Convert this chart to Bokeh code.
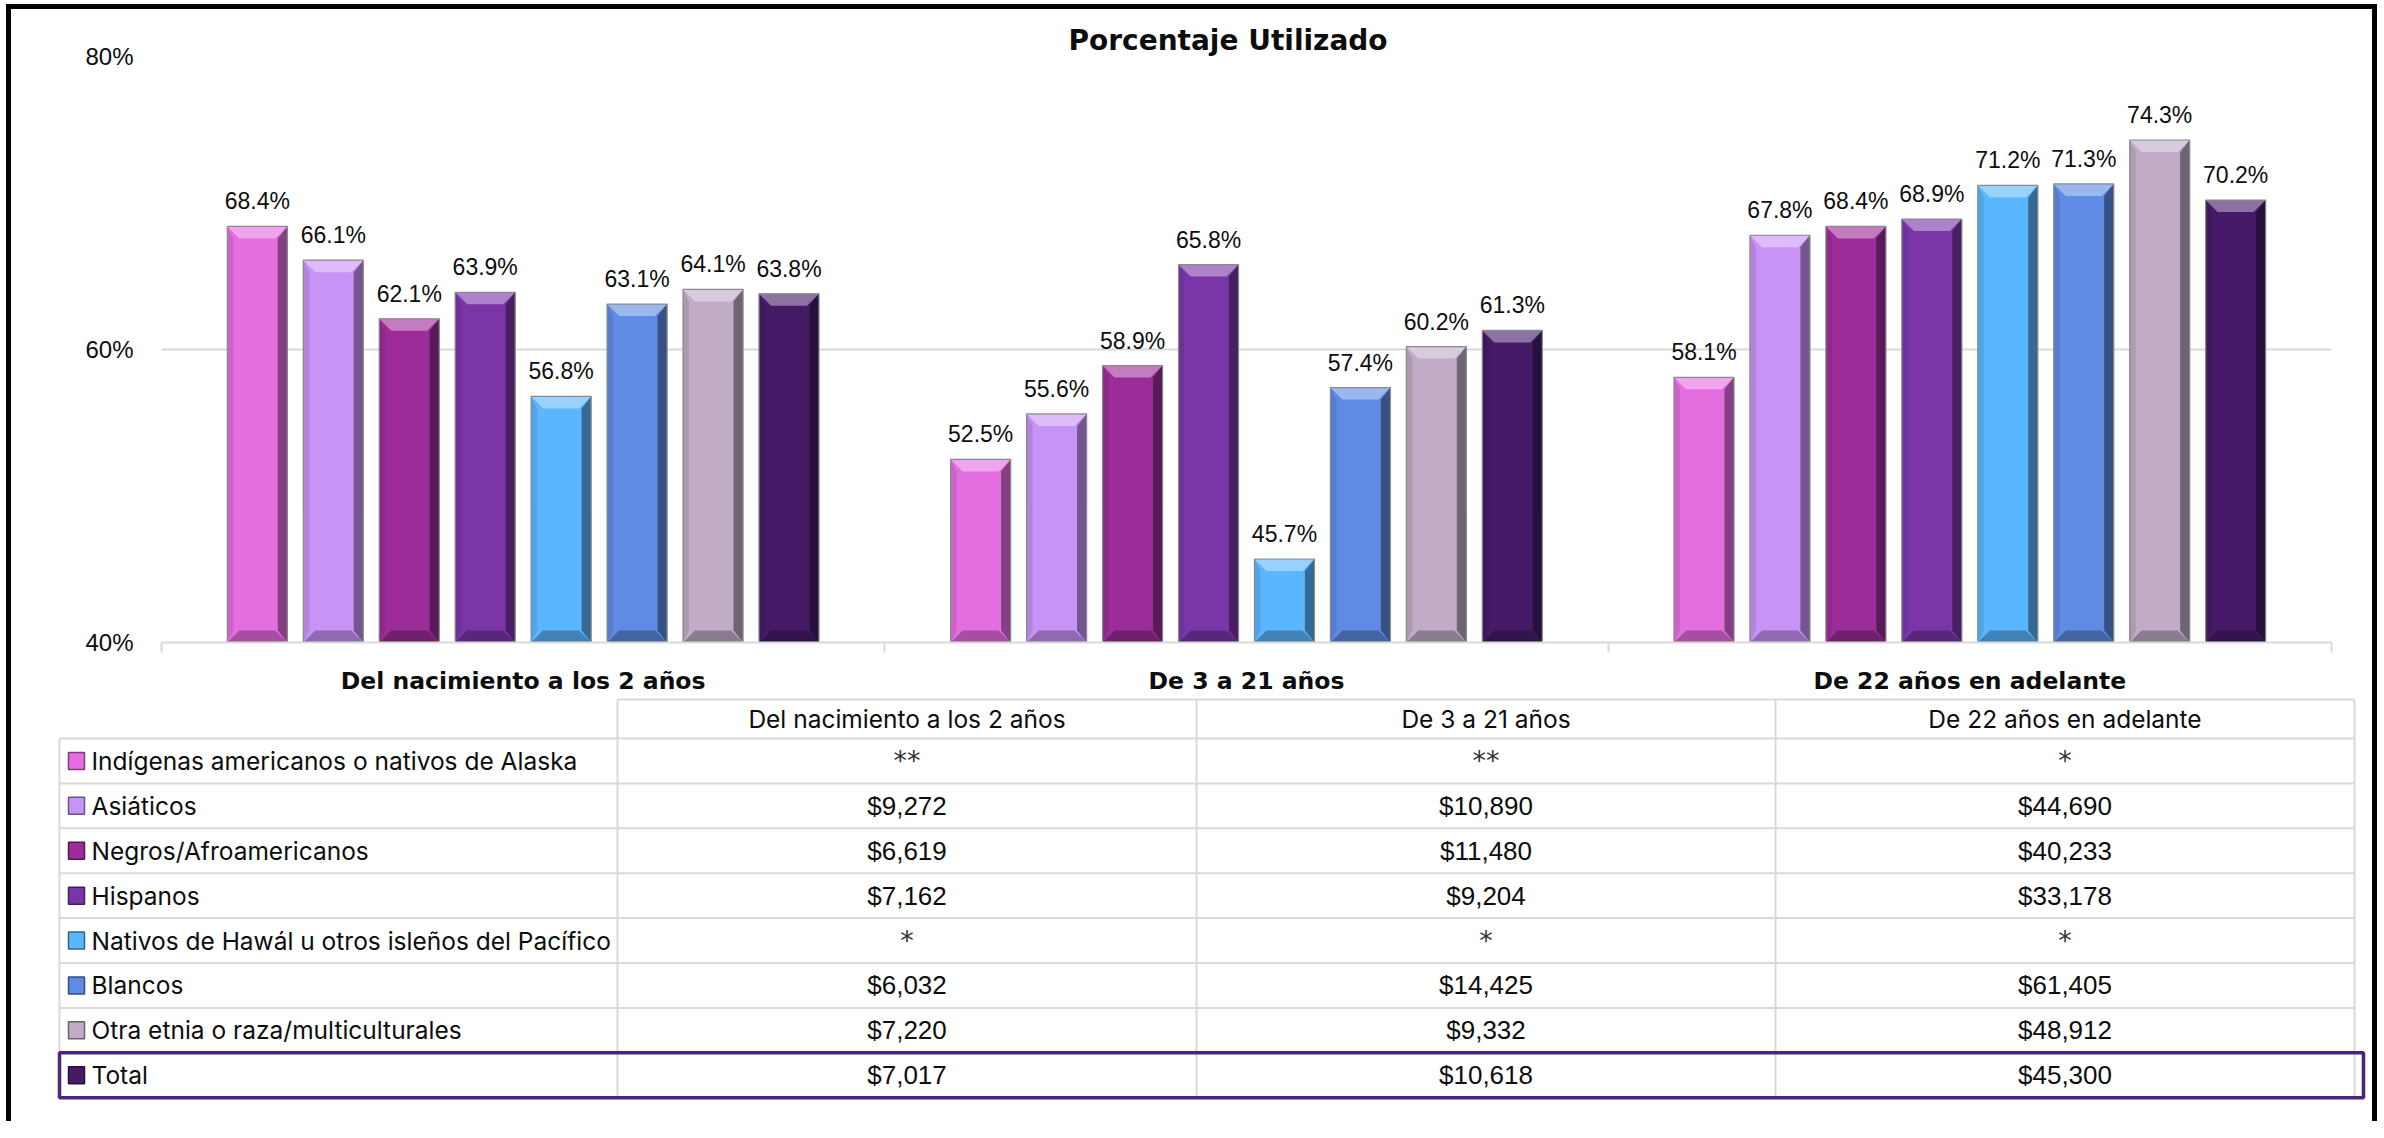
from bokeh.plotting import figure
from bokeh.models import Range1d, FixedTicker, ColumnDataSource
from bokeh.layouts import column
from bokeh.embed import file_html
from bokeh.resources import INLINE
from bokeh.core.properties import value

# ---------------- data ----------------
title_text = "Porcentaje Utilizado"
groups = ["Del nacimiento a los 2 años", "De 3 a 21 años", "De 22 años en adelante"]
series = [
    "Indígenas americanos o nativos de Alaska",
    "Asiáticos",
    "Negros/Afroamericanos",
    "Hispanos",
    "Nativos de Hawál u otros isleños del Pacífico",
    "Blancos",
    "Otra etnia o raza/multiculturales",
    "Total",
]
pct_nacimiento_2 = [68.4, 66.1, 62.1, 63.9, 56.8, 63.1, 64.1, 63.8]
pct_3_21 = [52.5, 55.6, 58.9, 65.8, 45.7, 57.4, 60.2, 61.3]
pct_22_mas = [58.1, 67.8, 68.4, 68.9, 71.2, 71.3, 74.3, 70.2]

costo_nacimiento_2 = ["**", "$9,272", "$6,619", "$7,162", "*", "$6,032", "$7,220", "$7,017"]
costo_3_21 = ["**", "$10,890", "$11,480", "$9,204", "*", "$14,425", "$9,332", "$10,618"]
costo_22_mas = ["*", "$44,690", "$40,233", "$33,178", "*", "$61,405", "$48,912", "$45,300"]

y_ticks = [40, 60, 80]
y_tick_labels = ["40%", "60%", "80%"]

colors = ["#E46EE0", "#C893F6", "#9C2C97", "#7A36A9", "#5AB6FE", "#608BE4", "#C0ACC6", "#451B68"]

pct_by_group = [pct_nacimiento_2, pct_3_21, pct_22_mas]
cost_by_group = [costo_nacimiento_2, costo_3_21, costo_22_mas]


def mix(hex_color, t, target):
    h = hex_color.lstrip("#")
    r, g, b = int(h[0:2], 16), int(h[2:4], 16), int(h[4:6], 16)
    tr, tg, tb = target
    r = round(r + (tr - r) * t)
    g = round(g + (tg - g) * t)
    b = round(b + (tb - b) * t)
    return "#%02x%02x%02x" % (r, g, b)


# ---------------- layout constants (image px) ----------------
MARGIN_L, MARGIN_T = 6, 4
BORDER = 5
INNER_W = 2361
CHART_H = 688
TABLE_H = 424
IMG_X0 = MARGIN_L + BORDER
IMG_Y0 = MARGIN_T + BORDER
FRAME_X = (161, 2331)
FRAME_Y = (56, 642)
MB_L = FRAME_X[0] - IMG_X0
MB_R = IMG_X0 + INNER_W - FRAME_X[1]
MB_T = FRAME_Y[0] - IMG_Y0
MB_B = IMG_Y0 + CHART_H - FRAME_Y[1]
frame_w_px = FRAME_X[1] - FRAME_X[0]
frame_h_px = FRAME_Y[1] - FRAME_Y[0]
Y0, Y1 = y_ticks[0], y_ticks[-1]
ux = len(groups) / frame_w_px
uy = (Y1 - Y0) / frame_h_px

BAR_STEP = 0.105
BAR_W = 0.083
BEVEL_PX = 12

TXT = "#0d0d0d"
GRID = "#d9d9d9"
SANS = "Inter"
BOLD = "DejaVu Sans"
ARIAL = "Liberation Sans"

# ---------------- chart ----------------
p = figure(width=INNER_W, height=CHART_H, x_range=Range1d(0, len(groups)),
           y_range=Range1d(Y0, Y1), output_backend="svg", toolbar_location=None,
           min_border_left=MB_L, min_border_right=MB_R, min_border_top=MB_T,
           min_border_bottom=MB_B)
p.frame_align = False
p.outline_line_color = None
p.background_fill_color = "white"
p.border_fill_color = "white"

p.title.text = title_text
p.title.align = "left"
p.title.offset = 1068 - FRAME_X[0]
p.title.text_font = BOLD
p.title.text_font_style = "bold"
p.title.text_font_size = "28px"
p.title.text_color = TXT
p.title.standoff = 0

# y axis
p.yaxis.ticker = FixedTicker(ticks=y_ticks)
p.yaxis.major_label_overrides = {t: l for t, l in zip(y_ticks, y_tick_labels)}
p.yaxis.axis_line_color = None
p.yaxis.major_tick_line_color = None
p.yaxis.minor_tick_line_color = None
p.yaxis.major_label_standoff = 22
p.yaxis.major_label_text_font = ARIAL
p.yaxis.major_label_text_font_size = "24px"
p.yaxis.major_label_text_color = TXT

# x axis
centers = [i + 0.5 for i in range(len(groups))]
p.xaxis.ticker = FixedTicker(ticks=centers, minor_ticks=list(range(len(groups) + 1)))
p.xaxis.major_label_overrides = {c: g for c, g in zip(centers, groups)}
p.xaxis.axis_line_color = GRID
p.xaxis.axis_line_width = 2
p.xaxis.major_tick_line_color = None
p.xaxis.minor_tick_line_color = GRID
p.xaxis.minor_tick_line_width = 2
p.xaxis.minor_tick_in = 0
p.xaxis.minor_tick_out = 10
p.xaxis.major_label_standoff = 14
p.xaxis.major_label_text_font = BOLD
p.xaxis.major_label_text_font_style = "bold"
p.xaxis.major_label_text_font_size = "23.5px"
p.xaxis.major_label_text_color = TXT

p.xgrid.visible = False
p.ygrid.ticker = FixedTicker(ticks=y_ticks[1:])
p.ygrid.grid_line_color = GRID
p.ygrid.grid_line_width = 2

# bars
xs, tops, cols, labels = [], [], [], []
for gi, vals in enumerate(pct_by_group):
    for si, v in enumerate(vals):
        xs.append(gi + 0.5 + (si - (len(series) - 1) / 2) * BAR_STEP)
        tops.append(v)
        cols.append(colors[si])
        labels.append(f"{v:.1f}%")

src = ColumnDataSource(dict(x=xs, top=tops, color=cols, label=labels))
p.vbar(x="x", top="top", bottom=Y0, width=BAR_W, fill_color="color",
       line_color=None, source=src)

ix = BEVEL_PX * ux
iy = BEVEL_PX * uy
hw = BAR_W / 2
bx, by, bc = [], [], []
for x, t, c in zip(xs, tops, cols):
    bx.append([x - hw, x + hw, x + hw - ix, x - hw + ix])
    by.append([t, t, t - iy, t - iy])
    bc.append(mix(c, 0.38, (255, 255, 255)))
    bx.append([x + hw, x + hw, x + hw - ix * 0.8, x + hw - ix * 0.8])
    by.append([t, Y0, Y0 + iy, t - iy])
    bc.append(mix(c, 0.42, (0, 0, 0)))
    bx.append([x - hw, x - hw + ix * 0.5, x - hw + ix * 0.5, x - hw])
    by.append([t, t - iy, Y0 + iy, Y0])
    bc.append(mix(c, 0.10, (0, 0, 0)))
    bx.append([x - hw, x - hw + ix, x + hw - ix, x + hw])
    by.append([Y0, Y0 + iy, Y0 + iy, Y0])
    bc.append(mix(c, 0.28, (0, 0, 0)))
p.patches(xs=bx, ys=by, fill_color=bc, line_color=None)
p.vbar(x="x", top="top", bottom=Y0, width=BAR_W, fill_color=None,
       line_color="#8a8a8a", line_width=1.2, source=src)

p.text(x="x", y="top", text="label", source=src, y_offset=-25,
       text_align="center", text_baseline="alphabetic",
       text_font=value(ARIAL), text_font_size="23px", text_color=TXT)

# ---------------- table ----------------
TBL_Y0 = IMG_Y0 + CHART_H
COL_PX = 579.0
COL0_PX = 617.0
ROW_PX = 44.9
ROW0_PX = 738.0


def tx(px):
    return (px - COL0_PX) / COL_PX


def ty(py):
    return (py - ROW0_PX) / ROW_PX


t = figure(width=INNER_W, height=TABLE_H,
           x_range=Range1d(tx(IMG_X0), tx(IMG_X0 + INNER_W)),
           y_range=Range1d(ty(TBL_Y0 + TABLE_H), ty(TBL_Y0)),
           output_backend="svg", toolbar_location=None, min_border=0,
           x_axis_location=None, y_axis_location=None)
t.frame_align = False
t.grid.visible = False
t.outline_line_color = None
t.background_fill_color = "white"
t.border_fill_color = "white"

n_rows = len(series)
n_cols = len(groups)
x_lab = tx(59)
y_head = ty(699)

hx0 = [x_lab] * (n_rows + 1) + [0]
hx1 = [n_cols] * (n_rows + 2)
hy = list(range(n_rows + 1)) + [y_head]
t.segment(x0=hx0, y0=hy, x1=hx1, y1=hy, line_color=GRID, line_width=2)
vx = [x_lab] + list(range(n_cols + 1))
vy0 = [0] + [y_head] * (n_cols + 1)
vy1 = [n_rows] * (n_cols + 2)
t.segment(x0=vx, y0=vy0, x1=vx, y1=vy1, line_color=GRID, line_width=2)

t.text(x=centers, y=[y_head / 2] * n_cols, text=groups, text_align="center",
       text_baseline="middle", text_font=value(SANS), text_font_size="24.5px",
       text_color=TXT)

rows_y = [r + 0.5 for r in range(n_rows)]
t.rect(x=[tx(76)] * n_rows, y=rows_y, width=16, height=17, width_units="screen",
       height_units="screen", fill_color=colors,
       line_color=[mix(c, 0.45, (0, 0, 0)) for c in colors], line_width=1.5)
t.text(x=[tx(91)] * n_rows, y=rows_y, text=series, text_align="left",
       text_baseline="middle", text_font=value(SANS), text_font_size="24.5px",
       text_color=TXT)

num_x, num_y, num_t = [], [], []
star_x, star_y, star_t = [], [], []
for gi, vals in enumerate(cost_by_group):
    for r, v in enumerate(vals):
        if v.startswith("*"):
            star_x.append(gi + 0.5); star_y.append(r + 0.5); star_t.append(v)
        else:
            num_x.append(gi + 0.5); num_y.append(r + 0.5); num_t.append(v)
t.text(x=num_x, y=num_y, text=num_t, text_align="center", text_baseline="middle",
       text_font=value(ARIAL), text_font_size="26px", text_color=TXT)
t.text(x=star_x, y=star_y, text=star_t, text_align="center", text_baseline="middle",
       text_font=value("DejaVu Sans"), text_font_size="27px", text_color="#333333")

t.quad(left=[x_lab], right=[tx(2363)], top=[n_rows - 1], bottom=[n_rows],
       fill_color=None, line_color="#4B2380", line_width=3.5)

layout = column(p, t, spacing=0, margin=(MARGIN_T, 0, 0, MARGIN_L),
                styles={"border-top": f"{BORDER}px solid #000",
                        "border-left": f"{BORDER}px solid #000",
                        "border-right": f"{BORDER}px solid #000",
                        "background-color": "white"})

open("out.html", "w").write(file_html(layout, INLINE))
